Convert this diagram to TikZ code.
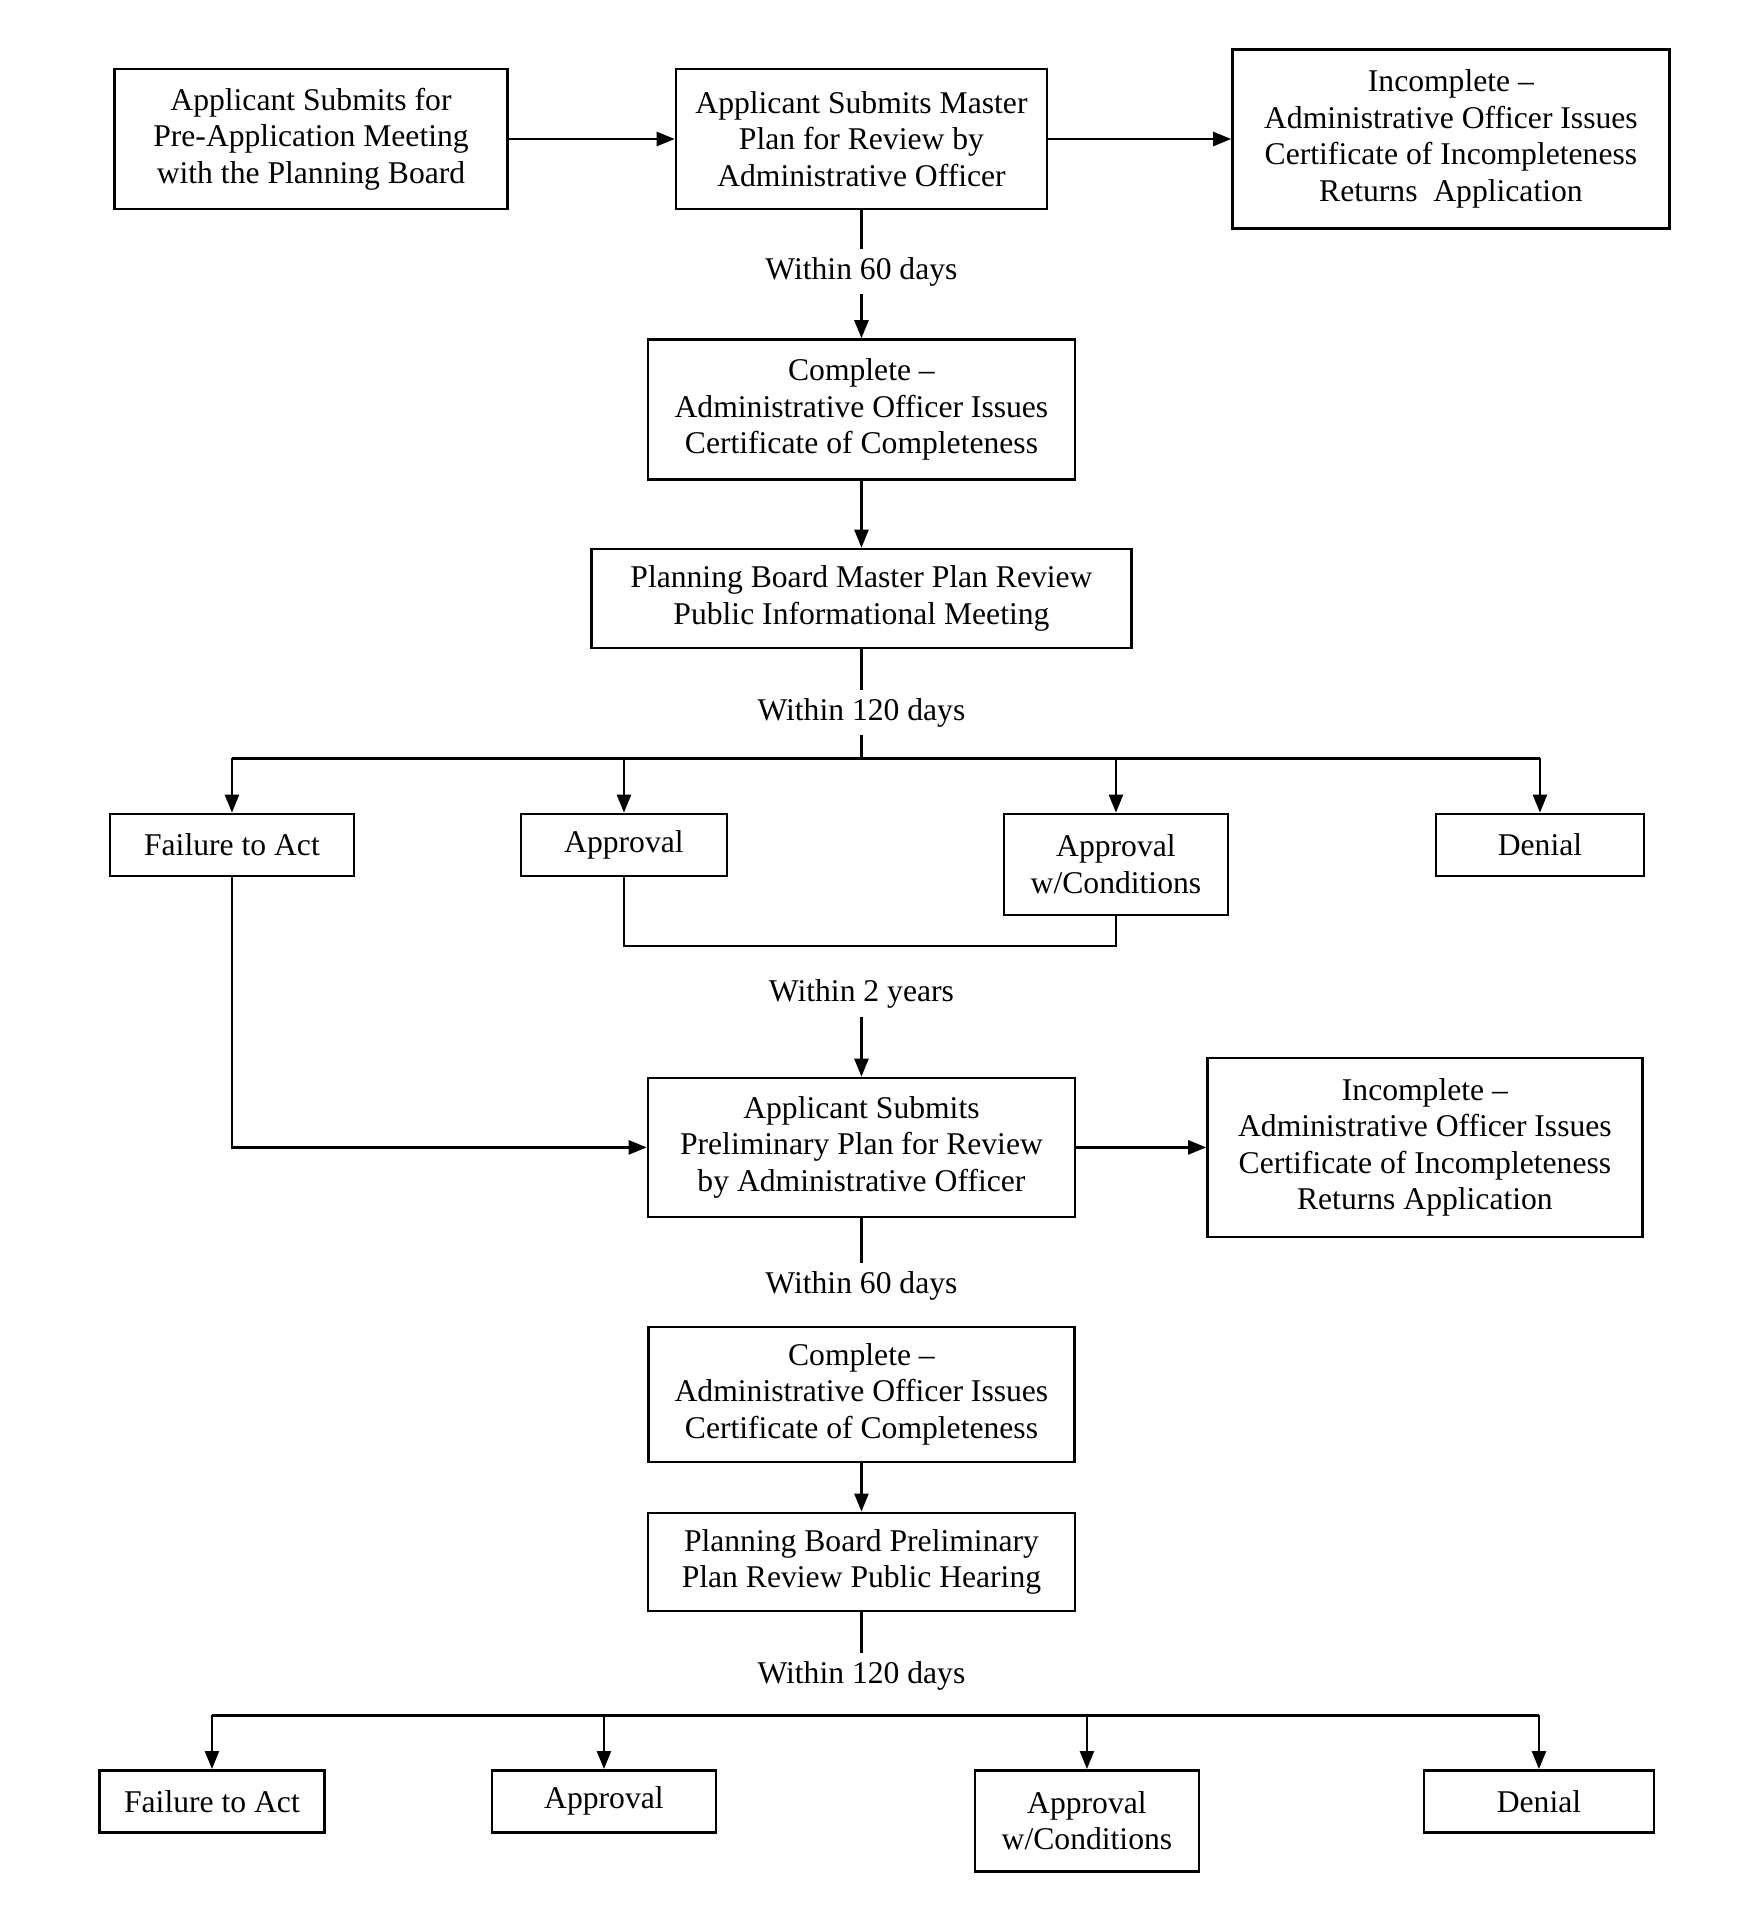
\documentclass[tikz,border=0pt]{standalone}
\usepackage{fontspec}
\setmainfont{Liberation Serif}
\usetikzlibrary{positioning,arrows.meta,calc}

\begin{document}
\begin{tikzpicture}[
  line width = 0.7pt,
  every node/.style = {font=\fontsize{9}{10.4}\selectfont},
  box/.style   = {draw, align=center, inner sep=2pt},
  three/.style = {box, minimum width=42.7mm, minimum height=13.9mm},
  four/.style  = {box, minimum height=17.9mm},
  small/.style = {box, minimum height=6.2mm},
  twoln/.style = {box, minimum width=22.4mm, minimum height=10.1mm},
  lbl/.style   = {inner sep=2pt},
  ar/.style    = {-{Triangle[length=1.8mm,width=1.4mm]}}
]
\useasboundingbox (0,0) rectangle (17.51,-19.07);

% master plan stage
\node[box, minimum width=39.3mm, minimum height=14mm] (pre) at (3.11,-1.39)
  {Applicant Submits for\\Pre-Application Meeting\\with the Planning Board};
\node[box, minimum width=37.1mm, minimum height=14mm, right=16.6mm of pre] (master)
  {Applicant Submits Master\\Plan for Review by\\Administrative Officer};
\node[four, minimum width=43.7mm, right=18.3mm of master] (inc1)
  {Incomplete --\\Administrative Officer Issues\\Certificate of Incompleteness\\Returns~~Application};

\node[box, minimum width=42.7mm, minimum height=14mm, below=12.8mm of master] (comp1)
  {Complete --\\Administrative Officer Issues\\Certificate of Completeness};
\node[box, minimum width=54mm, minimum height=9.9mm, below=6.7mm of comp1] (review1)
  {Planning Board Master Plan Review\\Public Informational Meeting};

\node[lbl, above=4.4mm of comp1]  (lbl1) {Within 60 days};
\node[lbl, below=4.1mm of review1] (lbl2) {Within 120 days};
\coordinate[below=2.3mm of lbl2] (br1);

\node[small,  minimum width=24.4mm, below=16.35mm of review1, xshift=-62.95mm] (fail1)   {Failure to Act};
\node[small,  minimum width=20.6mm, below=16.35mm of review1, xshift=-23.75mm] (appr1)   {Approval};
\node[twoln,                        below=16.35mm of review1, xshift=25.45mm]  (apcond1) {Approval\\w/Conditions};
\node[small,  minimum width=20.8mm, below=16.35mm of review1, xshift=67.85mm]  (deny1)   {Denial};

\draw[ar] (pre) -- (master);
\draw[ar] (master) -- (inc1);
\draw (master) -- (lbl1);
\draw[ar] (lbl1) -- (comp1);
\draw[ar] (comp1) -- (review1);
\draw (review1) -- (lbl2);
\draw (lbl2) -- (br1);
\draw (br1 -| fail1) -- (br1 -| deny1);
\draw[ar] (br1 -| fail1) -- (fail1);
\draw[ar] (br1 -| appr1) -- (appr1);
\draw[ar] (br1 -| apcond1) -- (apcond1);
\draw[ar] (br1 -| deny1) -- (deny1);

% preliminary plan stage
\node[three, below=42.75mm of review1] (prelim)
  {Applicant Submits\\Preliminary Plan for Review\\by Administrative Officer};
\node[four, minimum width=43.5mm, right=13mm of prelim] (inc2)
  {Incomplete --\\Administrative Officer Issues\\Certificate of Incompleteness\\Returns Application};
\node[box, minimum width=42.6mm, minimum height=13.5mm, below=10.75mm of prelim] (comp2)
  {Complete --\\Administrative Officer Issues\\Certificate of Completeness};
\node[box, minimum width=42.7mm, minimum height=9.8mm, below=4.85mm of comp2] (review2)
  {Planning Board Preliminary\\Plan Review Public Hearing};

\node[lbl, above=6mm of prelim]    (lbl3) {Within 2 years};
\node[lbl, below=4.5mm of prelim]  (lbl4) {Within 60 days};
\node[lbl, below=4.1mm of review2] (lbl5) {Within 120 days};
\coordinate[below=1.7mm of lbl5] (br2);

\node[small, minimum width=22.5mm, below=15.7mm of review2, xshift=-64.95mm] (fail2)   {Failure to Act};
\node[small, minimum width=22.4mm, below=15.7mm of review2, xshift=-25.75mm] (appr2)   {Approval};
\node[twoln,                       below=15.7mm of review2, xshift=22.55mm]  (apcond2) {Approval\\w/Conditions};
\node[small, minimum width=23mm,   below=15.7mm of review2, xshift=67.75mm]  (deny2)   {Denial};

\draw[ar] (fail1) |- (prelim);
\draw (appr1.south) -- ++(0,-6.9mm) -| (apcond1.south);
\draw[ar] (lbl3) -- (prelim);
\draw[ar] (prelim) -- (inc2);
\draw (prelim) -- (lbl4);
\draw[ar] (comp2) -- (review2);
\draw (review2) -- (lbl5);
\draw (br2 -| fail2) -- (br2 -| deny2);
\draw[ar] (br2 -| fail2) -- (fail2);
\draw[ar] (br2 -| appr2) -- (appr2);
\draw[ar] (br2 -| apcond2) -- (apcond2);
\draw[ar] (br2 -| deny2) -- (deny2);

\end{tikzpicture}
\end{document}
